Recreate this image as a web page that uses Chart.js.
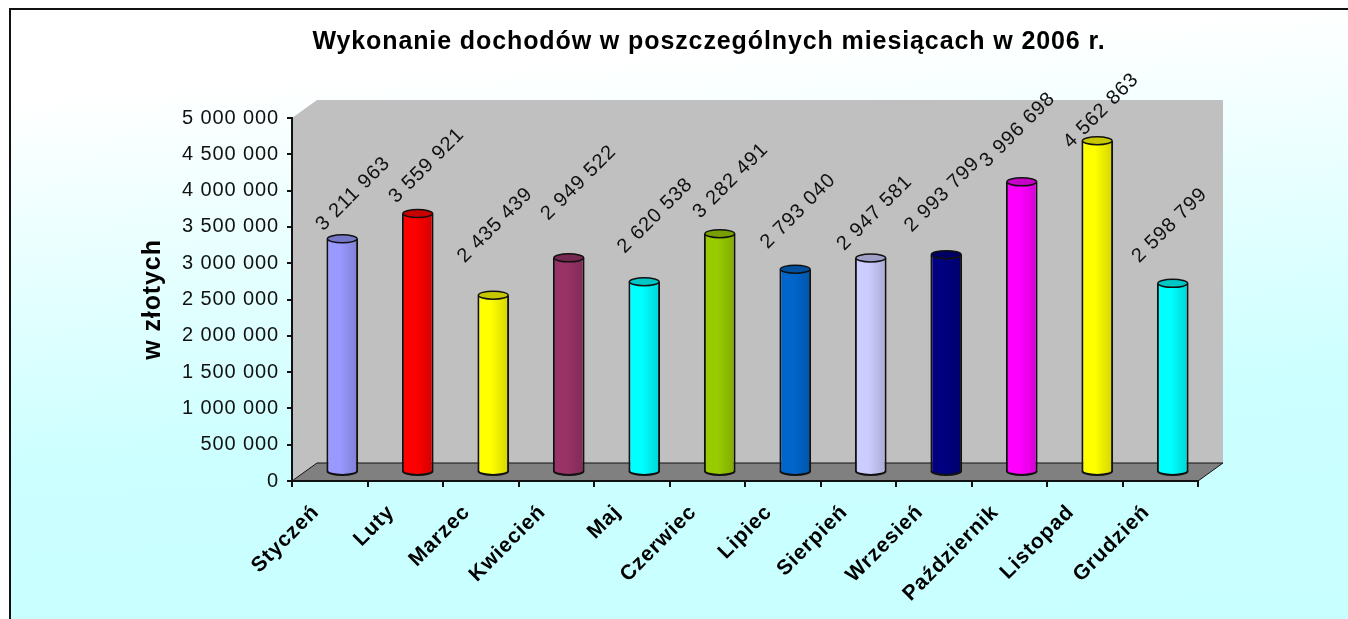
<!DOCTYPE html>
<html lang="pl">
<head>
<meta charset="utf-8">
<title>Wykonanie dochodów 2006</title>
<script src="https://cdn.jsdelivr.net/npm/chart.js@4/dist/chart.umd.js"></script>
<style>
    html, body { margin: 0; padding: 0; background: #fff; overflow: hidden; }
    #box { position: absolute; left: 0; top: 0; width: 1348px; height: 619px; }
    #frame {
        position: absolute; left: 9px; top: 8px; right: 0; bottom: 0;
        border-left: 2px solid #111; border-top: 2px solid #111;
        background: linear-gradient(176deg, #ffffff 0, #ffffff 90px, #ccffff 460px, #c8ffff 100%);
    }
    canvas { position: absolute; left: 0; top: 0; }
</style>
</head>
<body>
<div id="box">
    <div id="frame"></div>
    <canvas id="chart" width="1348" height="619"></canvas>
</div>
<script>
const months = ['Styczeń', 'Luty', 'Marzec', 'Kwiecień', 'Maj', 'Czerwiec', 'Lipiec', 'Sierpień', 'Wrzesień', 'Październik', 'Listopad', 'Grudzień'];
const incomes = [3211963, 3559921, 2435439, 2949522, 2620538, 3282491, 2793040, 2947581, 2993799, 3996698, 4562863, 2598799];
const barColors = ['#9999FF', '#FF0000', '#FFFF00', '#993366', '#00FFFF', '#99CC00', '#0066CC', '#CCCCFF', '#000080', '#FF00FF', '#FFFF00', '#00FFFF'];

// В оригинале подписи значений сдвинуты вручную, у каждой свой отступ от столбца
const labelShiftX = [11, 9, 2, 10, 11, 11, 3, 4, -4, -4, 4, -3];
const labelShiftY = [-45, -48, -70, -75, -66, -53, -58, -45, -60, -52, -30, -58];

const FONT = '"Liberation Sans", Arial, sans-serif';
// Глубина псевдо-3D: задняя стенка смещена относительно осей
const DEPTH_X = 25;
const DEPTH_Y = 18;
const BAR_RY = 4;

function formatValue(v) {
    return String(v).replace(/\B(?=(\d{3})+$)/g, ' ');
}

function shade(hex, k) {
    const n = parseInt(hex.slice(1), 16);
    const r = Math.round((n >> 16) * k);
    const g = Math.round(((n >> 8) & 255) * k);
    const b = Math.round((n & 255) * k);
    return `rgb(${r},${g},${b})`;
}

function barGradient(c2d, color, left, right) {
    const g = c2d.createLinearGradient(left, 0, right, 0);
    g.addColorStop(0, color);
    g.addColorStop(0.42, color);
    g.addColorStop(1, shade(color, 0.84));
    return g;
}

function polygon(c2d, pts, fill, stroke) {
    c2d.beginPath();
    pts.forEach((p, i) => i ? c2d.lineTo(p[0], p[1]) : c2d.moveTo(p[0], p[1]));
    c2d.closePath();
    c2d.fillStyle = fill;
    c2d.fill();
    if (stroke) {
        c2d.strokeStyle = stroke;
        c2d.lineWidth = 1;
        c2d.stroke();
    }
}

// Стенки и пол рисуем до осей
const wallsPlugin = {
    id: 'walls',
    beforeDraw(chart) {
        const c2d = chart.ctx;
        const { left, right, top, bottom } = chart.chartArea;
        // Текст в оригинале заметно разреженный
        c2d.letterSpacing = '0.9px';
        c2d.save();
        polygon(c2d, [[left + DEPTH_X, top - DEPTH_Y], [right + DEPTH_X, top - DEPTH_Y], [right + DEPTH_X, bottom - DEPTH_Y], [left + DEPTH_X, bottom - DEPTH_Y]], '#C0C0C0');
        polygon(c2d, [[left, top], [left + DEPTH_X, top - DEPTH_Y], [left + DEPTH_X, bottom - DEPTH_Y], [left, bottom]], '#C0C0C0');
        polygon(c2d, [[left, bottom], [left + DEPTH_X, bottom - DEPTH_Y], [right + DEPTH_X, bottom - DEPTH_Y], [right, bottom]], '#808080', '#111');
        c2d.restore();
    }
};

// Столбцы стоят в середине глубины, сверху и снизу добавляем эллипсы
const cylinderPlugin = {
    id: 'cylinders',
    beforeDatasetsDraw(chart) {
        chart.ctx.save();
        chart.ctx.translate(DEPTH_X / 2, -DEPTH_Y / 2);
    },
    afterDatasetsDraw(chart) {
        const c2d = chart.ctx;
        chart.getDatasetMeta(0).data.forEach((bar, i) => {
            const rx = bar.width / 2 - 1;
            c2d.lineWidth = 2;
            c2d.strokeStyle = '#111';

            c2d.beginPath();
            c2d.ellipse(bar.x, bar.base, rx, BAR_RY, 0, 0, Math.PI);
            c2d.fillStyle = barGradient(c2d, barColors[i], bar.x - rx, bar.x + rx);
            c2d.fill();
            c2d.stroke();

            c2d.beginPath();
            c2d.ellipse(bar.x, bar.y, rx, BAR_RY, 0, 0, Math.PI * 2);
            c2d.fillStyle = shade(barColors[i], 0.78);
            c2d.fill();
            c2d.lineWidth = 1.5;
            c2d.stroke();
        });
        c2d.restore();
    }
};

const valueLabelsPlugin = {
    id: 'valueLabels',
    afterLayout(chart) {
        // Заголовок в оригинале центрирован не по всей ширине
        chart.titleBlock.left = 70;
        chart.titleBlock.right = 1348;
    },
    afterDraw(chart) {
        const c2d = chart.ctx;
        c2d.save();
        c2d.font = `20px ${FONT}`;
        c2d.fillStyle = '#111';
        c2d.textAlign = 'center';
        c2d.textBaseline = 'middle';
        chart.getDatasetMeta(0).data.forEach((bar, i) => {
            c2d.save();
            c2d.translate(bar.x + DEPTH_X / 2 + labelShiftX[i], bar.y - DEPTH_Y / 2 + labelShiftY[i]);
            c2d.rotate(-Math.PI / 4);
            c2d.fillText(formatValue(incomes[i]), 0, 0);
            c2d.restore();
        });
        c2d.restore();
    }
};

new Chart(document.getElementById('chart'), {
    type: 'bar',
    data: {
        labels: months,
        datasets: [{
            data: incomes,
            barPercentage: 0.42,
            categoryPercentage: 1,
            borderColor: '#111',
            borderWidth: { left: 2, right: 2, top: 0, bottom: 0 },
            borderSkipped: false,
            backgroundColor(c) {
                if (c.dataIndex === undefined || !c.chart.chartArea) return '#999';
                const x = c.chart.scales.x.getPixelForValue(c.dataIndex);
                return barGradient(c.chart.ctx, barColors[c.dataIndex], x - 15, x + 15);
            }
        }]
    },
    plugins: [wallsPlugin, cylinderPlugin, valueLabelsPlugin],
    options: {
        responsive: false,
        animation: false,
        layout: { padding: { left: 135, right: 150, top: 0, bottom: 0 } },
        plugins: {
            legend: { display: false },
            tooltip: { enabled: false },
            title: {
                display: true,
                text: 'Wykonanie dochodów w poszczególnych miesiącach w 2006 r.',
                color: '#000',
                font: { family: FONT, size: 25, weight: 'bold', lineHeight: 1.2 },
                padding: { top: 27, bottom: 61 }
            }
        },
        scales: {
            x: {
                afterFit(s) { s.height = 138; },
                border: { color: '#111', width: 2 },
                grid: { drawOnChartArea: false, color: '#111', lineWidth: 2, tickLength: 6 },
                ticks: {
                    color: '#000',
                    autoSkip: false,
                    minRotation: 45,
                    maxRotation: 45,
                    labelOffset: -14,
                    padding: 13,
                    font: { family: FONT, size: 21, weight: 'bold' }
                }
            },
            y: {
                min: 0,
                max: 5000000,
                afterFit(s) { s.width = 157; },
                border: { color: '#111', width: 2 },
                grid: { drawOnChartArea: false, color: '#111', lineWidth: 2, tickLength: 5 },
                title: {
                    display: true,
                    text: 'w złotych',
                    color: '#000',
                    font: { family: FONT, size: 25, weight: 'bold' },
                    padding: { top: 3, bottom: 0 }
                },
                ticks: {
                    stepSize: 500000,
                    color: '#111',
                    padding: 8,
                    font: { family: FONT, size: 20 },
                    callback: v => formatValue(v)
                }
            }
        }
    }
});
</script>
</body>
</html>
